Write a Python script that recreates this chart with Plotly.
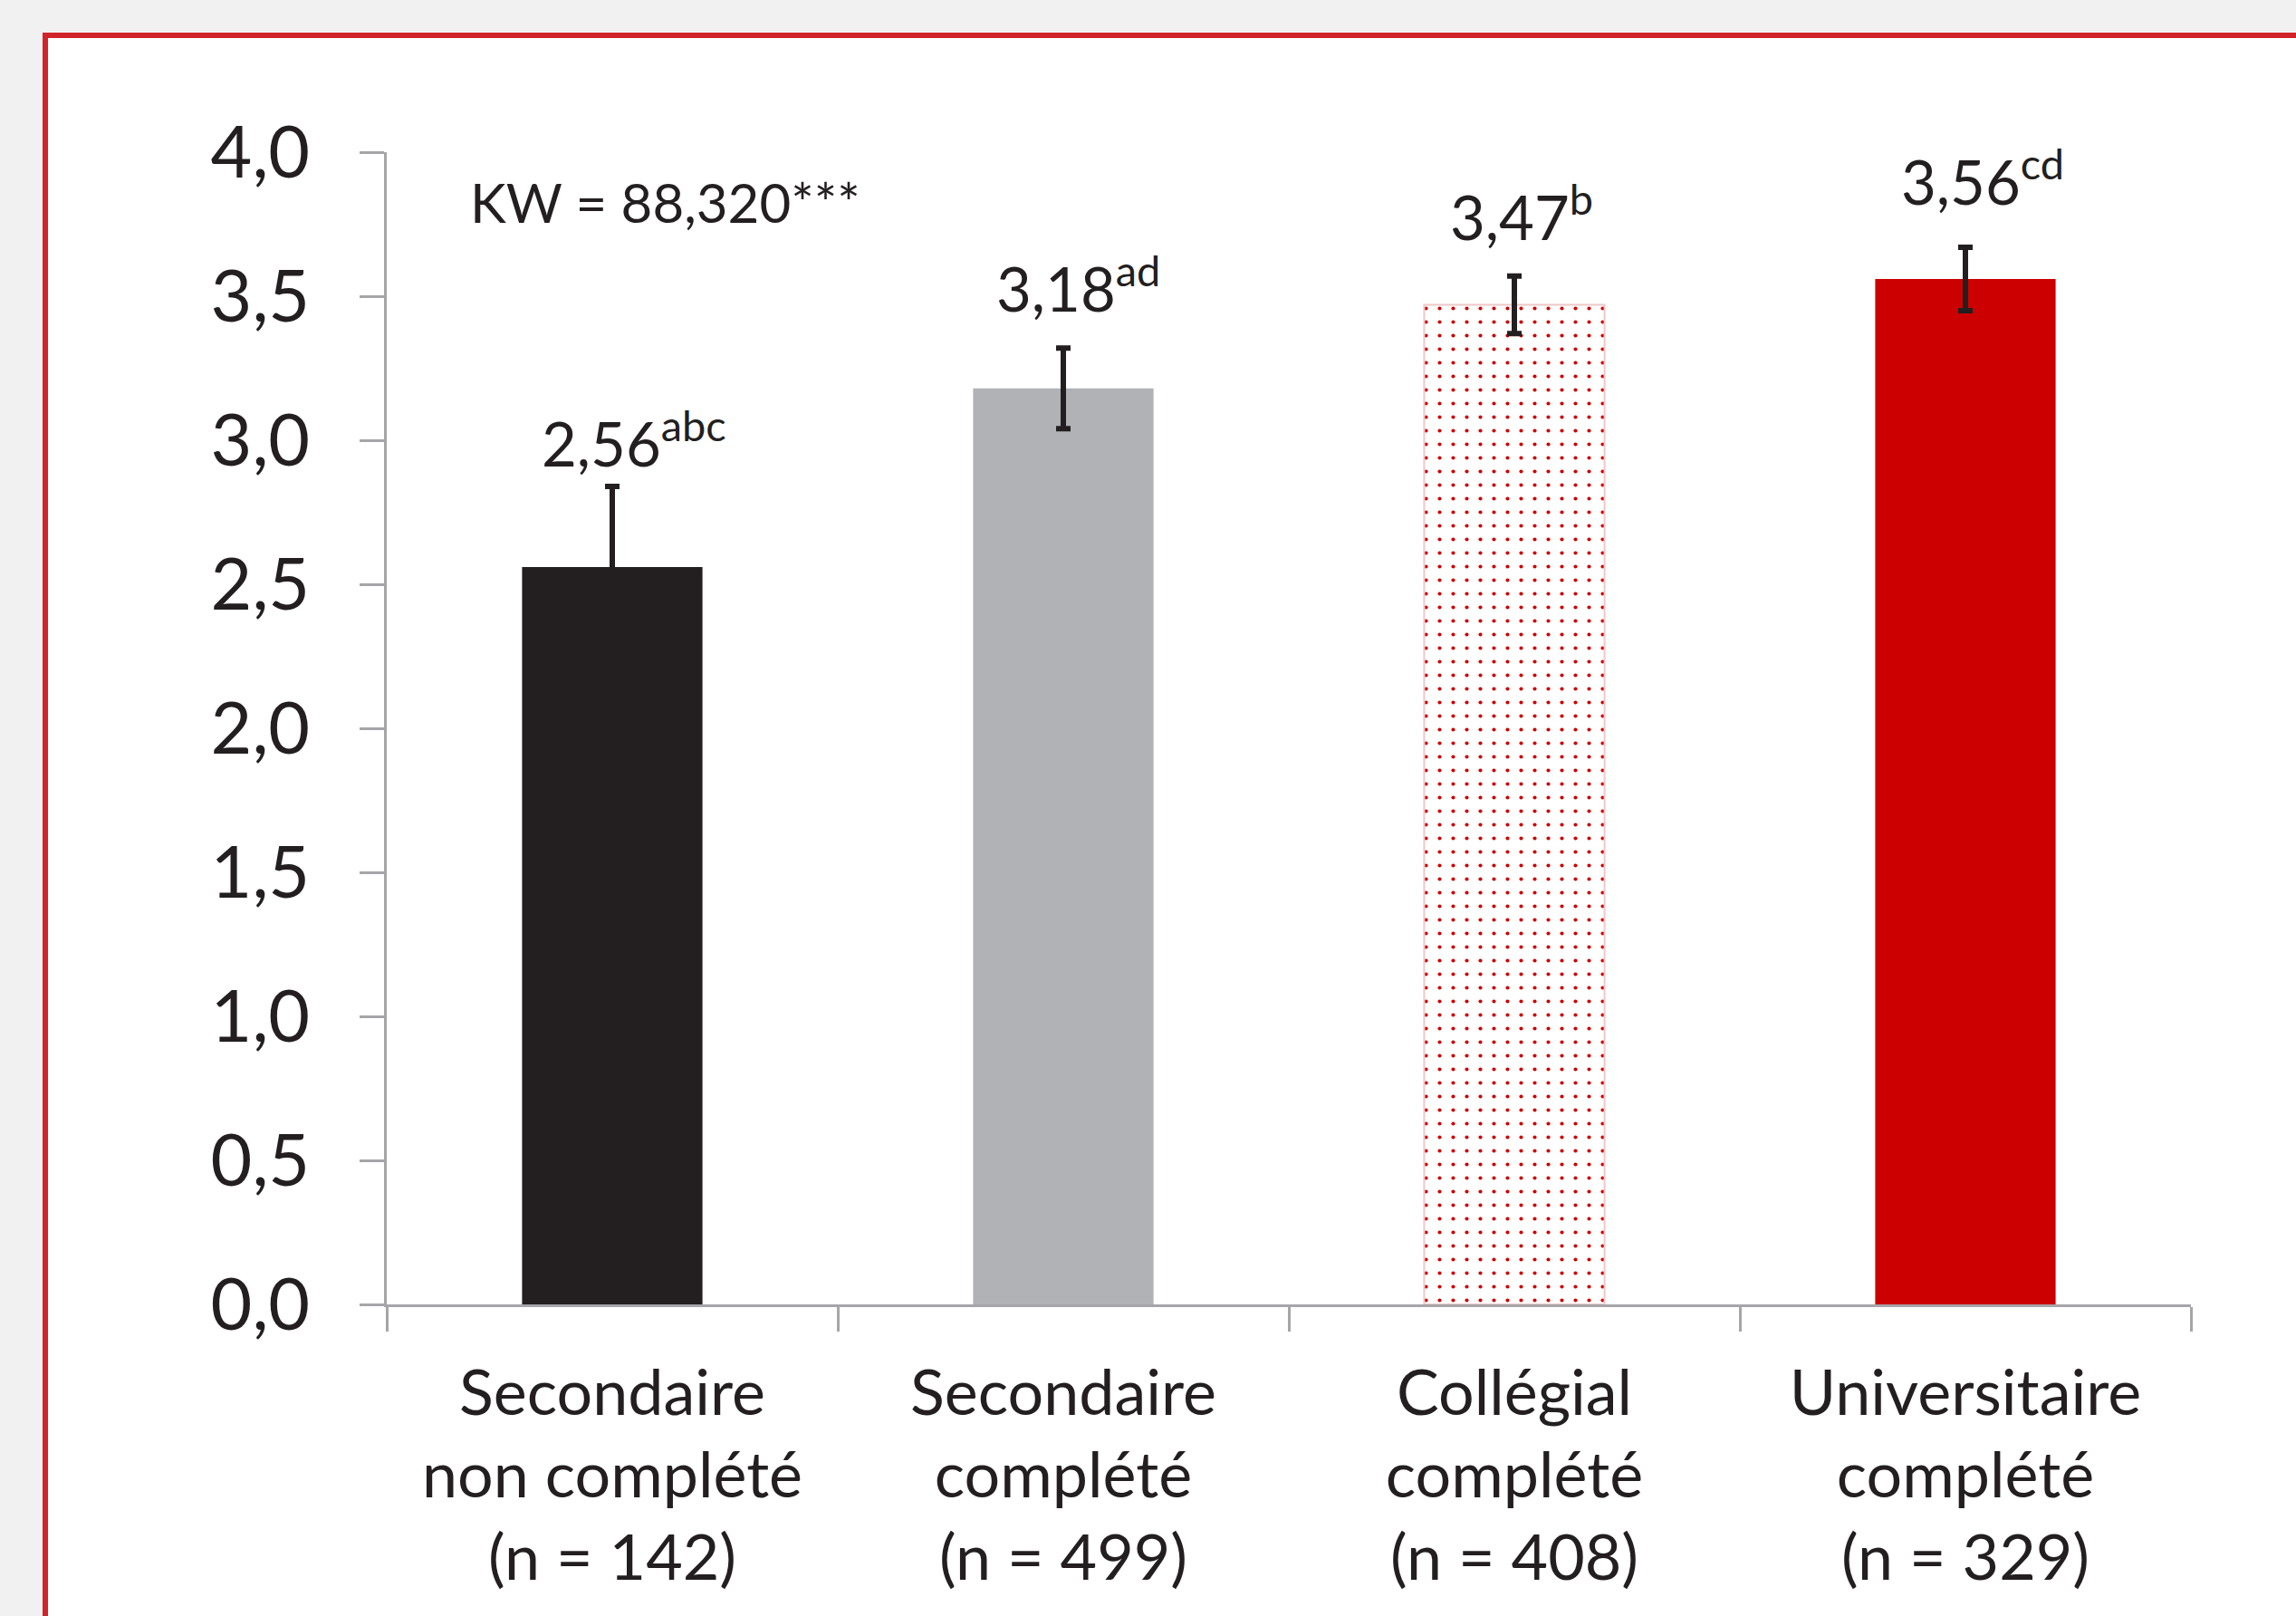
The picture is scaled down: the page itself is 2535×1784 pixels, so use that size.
import plotly.graph_objects as go

categories = ["Secondaire<br>non complété<br>(n = 142)",
              "Secondaire<br>complété<br>(n = 499)",
              "Collégial<br>complété<br>(n = 408)",
              "Universitaire<br>complété<br>(n = 329)"]
means = [2.56, 3.18, 3.47, 3.56]
errors = [0.28, 0.14, 0.10, 0.11]
letters = ["abc", "ad", "b", "cd"]
value_text = ["2,56", "3,18", "3,47", "3,56"]
y_ticks = [0, 0.5, 1.0, 1.5, 2.0, 2.5, 3.0, 3.5, 4.0]
y_tick_text = ["0,0", "0,5", "1,0", "1,5", "2,0", "2,5", "3,0", "3,5", "4,0"]
kw_text = "KW = 88,320***"

# styling (not data)
fills = ["#231f20", "#b1b2b6", "#ffffff", "#cc0000"]
dotted = [False, False, True, False]
label_xshift = [24, 16, 8, 19]
label_yshift = [6, 24, 24, 31]

W, H = 2535, 1784
L, R, T, B = 427, W - 2419, 168, H - 1440
FONT = "Lato"
TXT = "#231f20"

fig = go.Figure()
for i, (c, m, e) in enumerate(zip(categories, means, errors)):
    marker = dict(color=fills[i], line=dict(width=0))
    if dotted[i]:
        marker = dict(color="#ffffff",
                      line=dict(color="#f0c8c8", width=2),
                      pattern=dict(shape=".", fgcolor="#cc0000",
                                   bgcolor="#ffffff", size=15, solidity=0.06,
                                   fillmode="replace"))
    fig.add_trace(go.Bar(
        x=[c], y=[m], marker=marker,
        error_y=dict(type="data", array=[e], visible=True,
                     color="#231f20", thickness=6, width=8),
        width=0.4, hoverinfo="skip",
    ))

for i, (c, m, e, v, l) in enumerate(zip(categories, means, errors, value_text, letters)):
    fig.add_annotation(x=c, y=m + e, xref="x", yref="y",
                       text=f"{v}<sup>{l}</sup>", showarrow=False,
                       yanchor="bottom", yshift=label_yshift[i],
                       xshift=label_xshift[i],
                       font=dict(family=FONT, size=67, color=TXT))

pw, ph = W - L - R, H - T - B
fig.add_annotation(x=(734 - L) / pw, y=1 - (223 - T) / ph,
                   xref="paper", yref="paper", text=kw_text, showarrow=False,
                   xanchor="center", yanchor="middle",
                   font=dict(family=FONT, size=60, color=TXT))

# red framed panel
fig.add_shape(type="rect", xref="paper", yref="paper", layer="below",
              x0=(50 - L) / pw, x1=(W + 50 - L) / pw,
              y0=1 - (H + 50 - T) / ph, y1=1 + (T - 39) / ph,
              line=dict(color="#d2232a", width=6), fillcolor="#ffffff")

fig.update_layout(
    width=W, height=H,
    margin=dict(l=L, r=R, t=T, b=B),
    paper_bgcolor="#f1f1f1", plot_bgcolor="rgba(0,0,0,0)",
    showlegend=False,
    font=dict(family=FONT, color=TXT),
    barmode="overlay",
)
fig.update_xaxes(
    showline=True, linecolor="#a6a6a8", linewidth=3,
    ticks="outside", ticklen=27, tickwidth=3, tickcolor="#a6a6a8",
    tickson="boundaries", showgrid=False,
    tickfont=dict(family=FONT, size=70, color=TXT),
    ticklabelstandoff=35,
)
fig.update_yaxes(
    range=[0, 4], tickvals=y_ticks, ticktext=y_tick_text,
    showline=True, linecolor="#a6a6a8", linewidth=3,
    ticks="outside", ticklen=27, tickwidth=3, tickcolor="#a6a6a8",
    showgrid=False, zeroline=False,
    tickfont=dict(family=FONT, size=79, color=TXT),
    ticklabelstandoff=39,
)

fig.write_html("out.html",
               config={"displayModeBar": False},
               post_script="document.body.style.margin='0';"
                           "document.body.style.background='#f1f1f1';")
